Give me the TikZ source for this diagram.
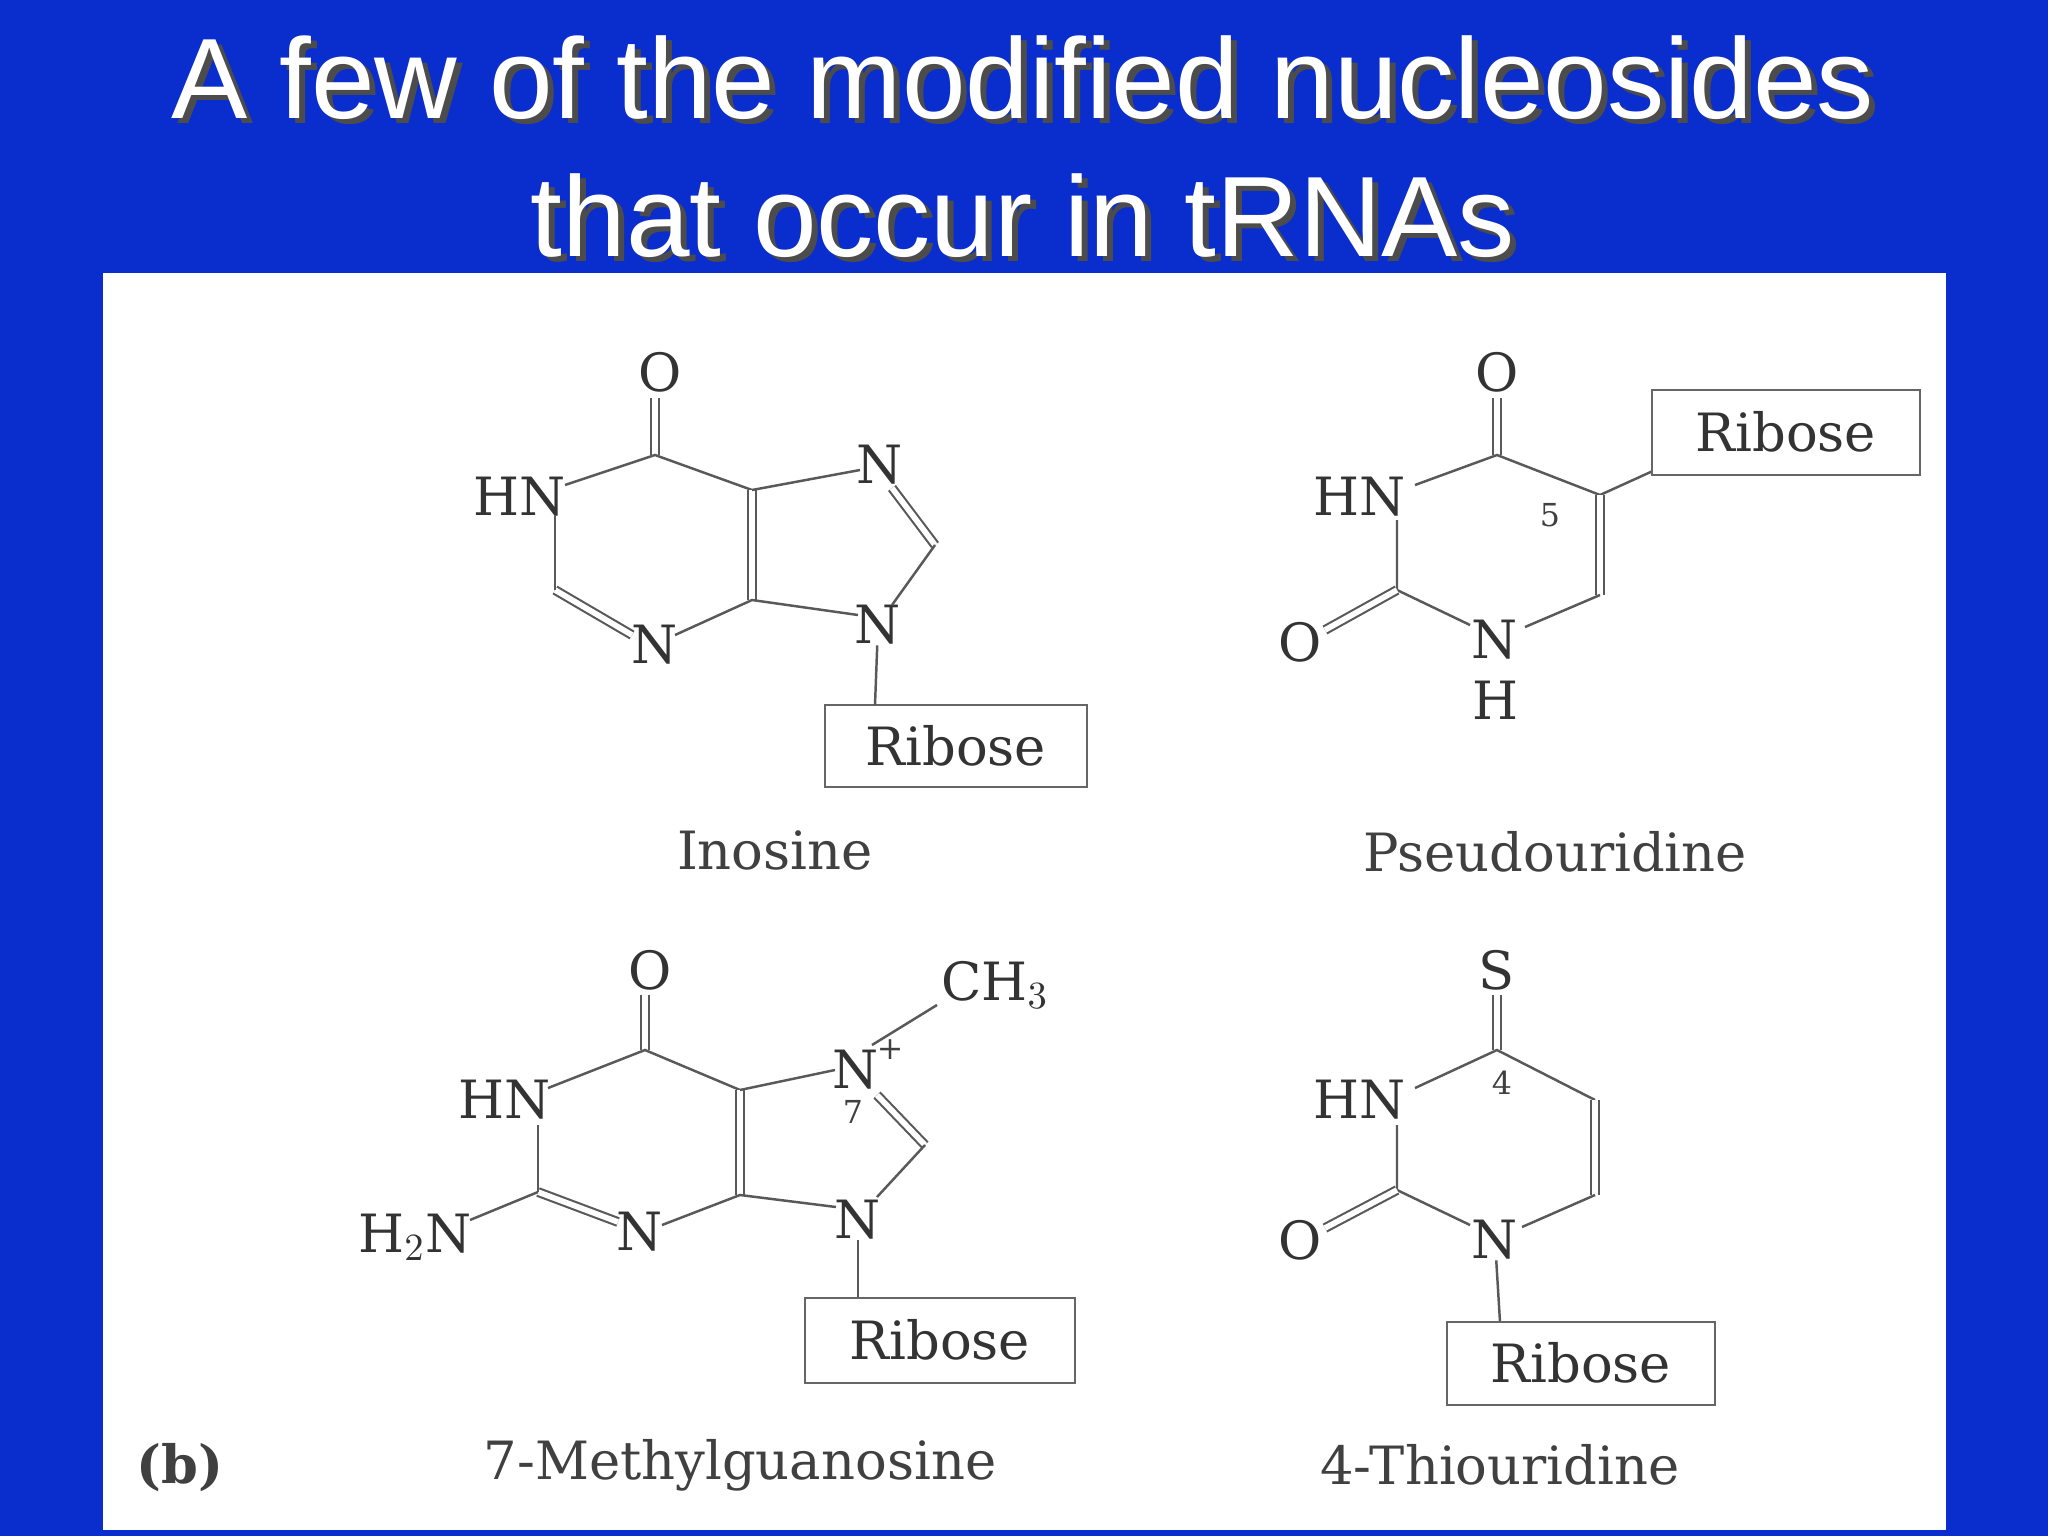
\documentclass[tikz,border=0pt]{standalone}
\usepackage{fontspec}
\newfontfamily\titlefont{Liberation Sans}
\newfontfamily\chemfont{DejaVu Serif}
\begin{document}
\begin{tikzpicture}[x=0.01cm,y=-0.01cm,
  bond/.style={draw=black!65,line width=0.7pt},
  dbl/.style={draw=black!65,line width=0.6pt,double=white,double distance=1.6pt},
  atom/.style={font=\chemfont\fontsize{15}{16}\selectfont,text=black!80,inner sep=0pt},
  small/.style={font=\chemfont\fontsize{9}{10}\selectfont,text=black!75,inner sep=0pt},
  cname/.style={font=\chemfont\fontsize{15}{16}\selectfont,text=black!75,inner sep=0pt},
  box/.style={draw=black!60,line width=0.6pt,fill=white},
  ttl/.style={font=\titlefont\fontsize{32.5}{36}\selectfont,inner sep=0pt}]
\useasboundingbox (0,0) rectangle (2048,1536);
\fill[fill={rgb,255:red,10;green,45;blue,205}] (0,0) rectangle (2048,1536);
\fill[white] (103,273) rectangle (1946,1530);
% title
\node[ttl,text=black!70] at (1029,83) {A few of the modified nucleosides};
\node[ttl,text=white] (t1) at (1023,78) {A few of the modified nucleosides};
\node[ttl,text=black!70] at (1029,221) {that occur in tRNAs};
\node[ttl,text=white] (t2) at (1023,216) {that occur in tRNAs};
% ---- Inosine
\node[atom] (iO) at (660,372) {O};
\node[atom] (iHN) at (520,497) {HN};
\node[atom] (iN7) at (880,465) {N};
\node[atom] (iN9) at (878,625) {N};
\node[atom] (iN3) at (655,645) {N};
\draw[dbl] (655,455) -- (655,398);
\draw[bond] (565,485) -- (655,455) -- (752,490);
\draw[dbl] (752,490) -- (752,600);
\draw[bond] (752,490) -- (860,470);
\draw[dbl] (892,488) -- (935,545);
\draw[bond] (935,545) -- (892,605);
\draw[bond] (858,615) -- (752,600) -- (675,635);
\draw[dbl] (632,635) -- (555,590);
\draw[bond] (555,590) -- (555,515);
\draw[box] (825,705) rectangle (1087,787);
\node[atom] (ir) at (956,746) {Ribose};
\draw[bond] (iN9) -- (875,705);
\node[cname] at (775,850) {Inosine};
% ---- Pseudouridine
\node[atom] (pO) at (1497,372) {O};
\node[atom] (pHN) at (1360,497) {HN};
\node[small] at (1550,515) {5};
\node[atom] (pN) at (1495,640) {N};
\node[atom] (pH) at (1495,700) {H};
\node[atom] (pO2) at (1300,642) {O};
\draw[dbl] (1497,455) -- (1497,398);
\draw[bond] (1415,485) -- (1497,455) -- (1600,495) -- (1655,470);
\draw[dbl] (1600,495) -- (1600,595);
\draw[bond] (1600,595) -- (1525,627);
\draw[bond] (1470,625) -- (1397,590) -- (1397,520);
\draw[dbl] (1397,590) -- (1325,630);
\draw[box] (1652,390) rectangle (1920,475);
\node[atom] at (1786,432) {Ribose};
\node[cname] at (1555,852) {Pseudouridine};
% ---- 7-Methylguanosine
\node[atom] (mO) at (650,970) {O};
\node[atom] (mHN) at (505,1100) {HN};
\node[atom] (mN7) at (856,1070) {N};
\node[small] at (890,1050) {+};
\node[small] at (853,1112) {7};
\node[atom] (mCH) at (995,985) {CH$_3$};
\node[atom] (mN9) at (858,1220) {N};
\node[atom] (mN3) at (640,1232) {N};
\node[atom] (mH2N) at (415,1237) {H$_2$N};
\draw[dbl] (645,1050) -- (645,995);
\draw[bond] (548,1088) -- (645,1050) -- (740,1090);
\draw[dbl] (740,1090) -- (740,1195);
\draw[bond] (740,1090) -- (835,1070);
\draw[bond] (872,1045) -- (937,1005);
\draw[dbl] (877,1095) -- (925,1145);
\draw[bond] (925,1145) -- (877,1197);
\draw[bond] (836,1207) -- (740,1195) -- (662,1225);
\draw[dbl] (618,1222) -- (538,1192);
\draw[bond] (538,1192) -- (538,1125);
\draw[bond] (538,1192) -- (470,1220);
\draw[bond] (mN9) -- (858,1298);
\draw[box] (805,1298) rectangle (1075,1383);
\node[atom] at (940,1340) {Ribose};
\node[cname] at (740,1465) {7-Methylguanosine};
\node[cname,font=\chemfont\bfseries\fontsize{15}{16}\selectfont] at (180,1468) {(b)};
% ---- 4-Thiouridine
\node[atom] (sS) at (1497,970) {S};
\node[small] at (1502,1083) {4};
\node[atom] (sHN) at (1360,1100) {HN};
\node[atom] (sN) at (1495,1240) {N};
\node[atom] (sO) at (1300,1240) {O};
\draw[dbl] (1497,1050) -- (1497,995);
\draw[bond] (1415,1088) -- (1497,1050) -- (1595,1100);
\draw[dbl] (1595,1100) -- (1595,1195);
\draw[bond] (1595,1195) -- (1522,1227);
\draw[bond] (1470,1225) -- (1397,1190) -- (1397,1125);
\draw[dbl] (1397,1190) -- (1325,1228);
\draw[bond] (sN) -- (1500,1322);
\draw[box] (1447,1322) rectangle (1715,1405);
\node[atom] at (1581,1363) {Ribose};
\node[cname] at (1500,1465) {4-Thiouridine};
\end{tikzpicture}
\end{document}
